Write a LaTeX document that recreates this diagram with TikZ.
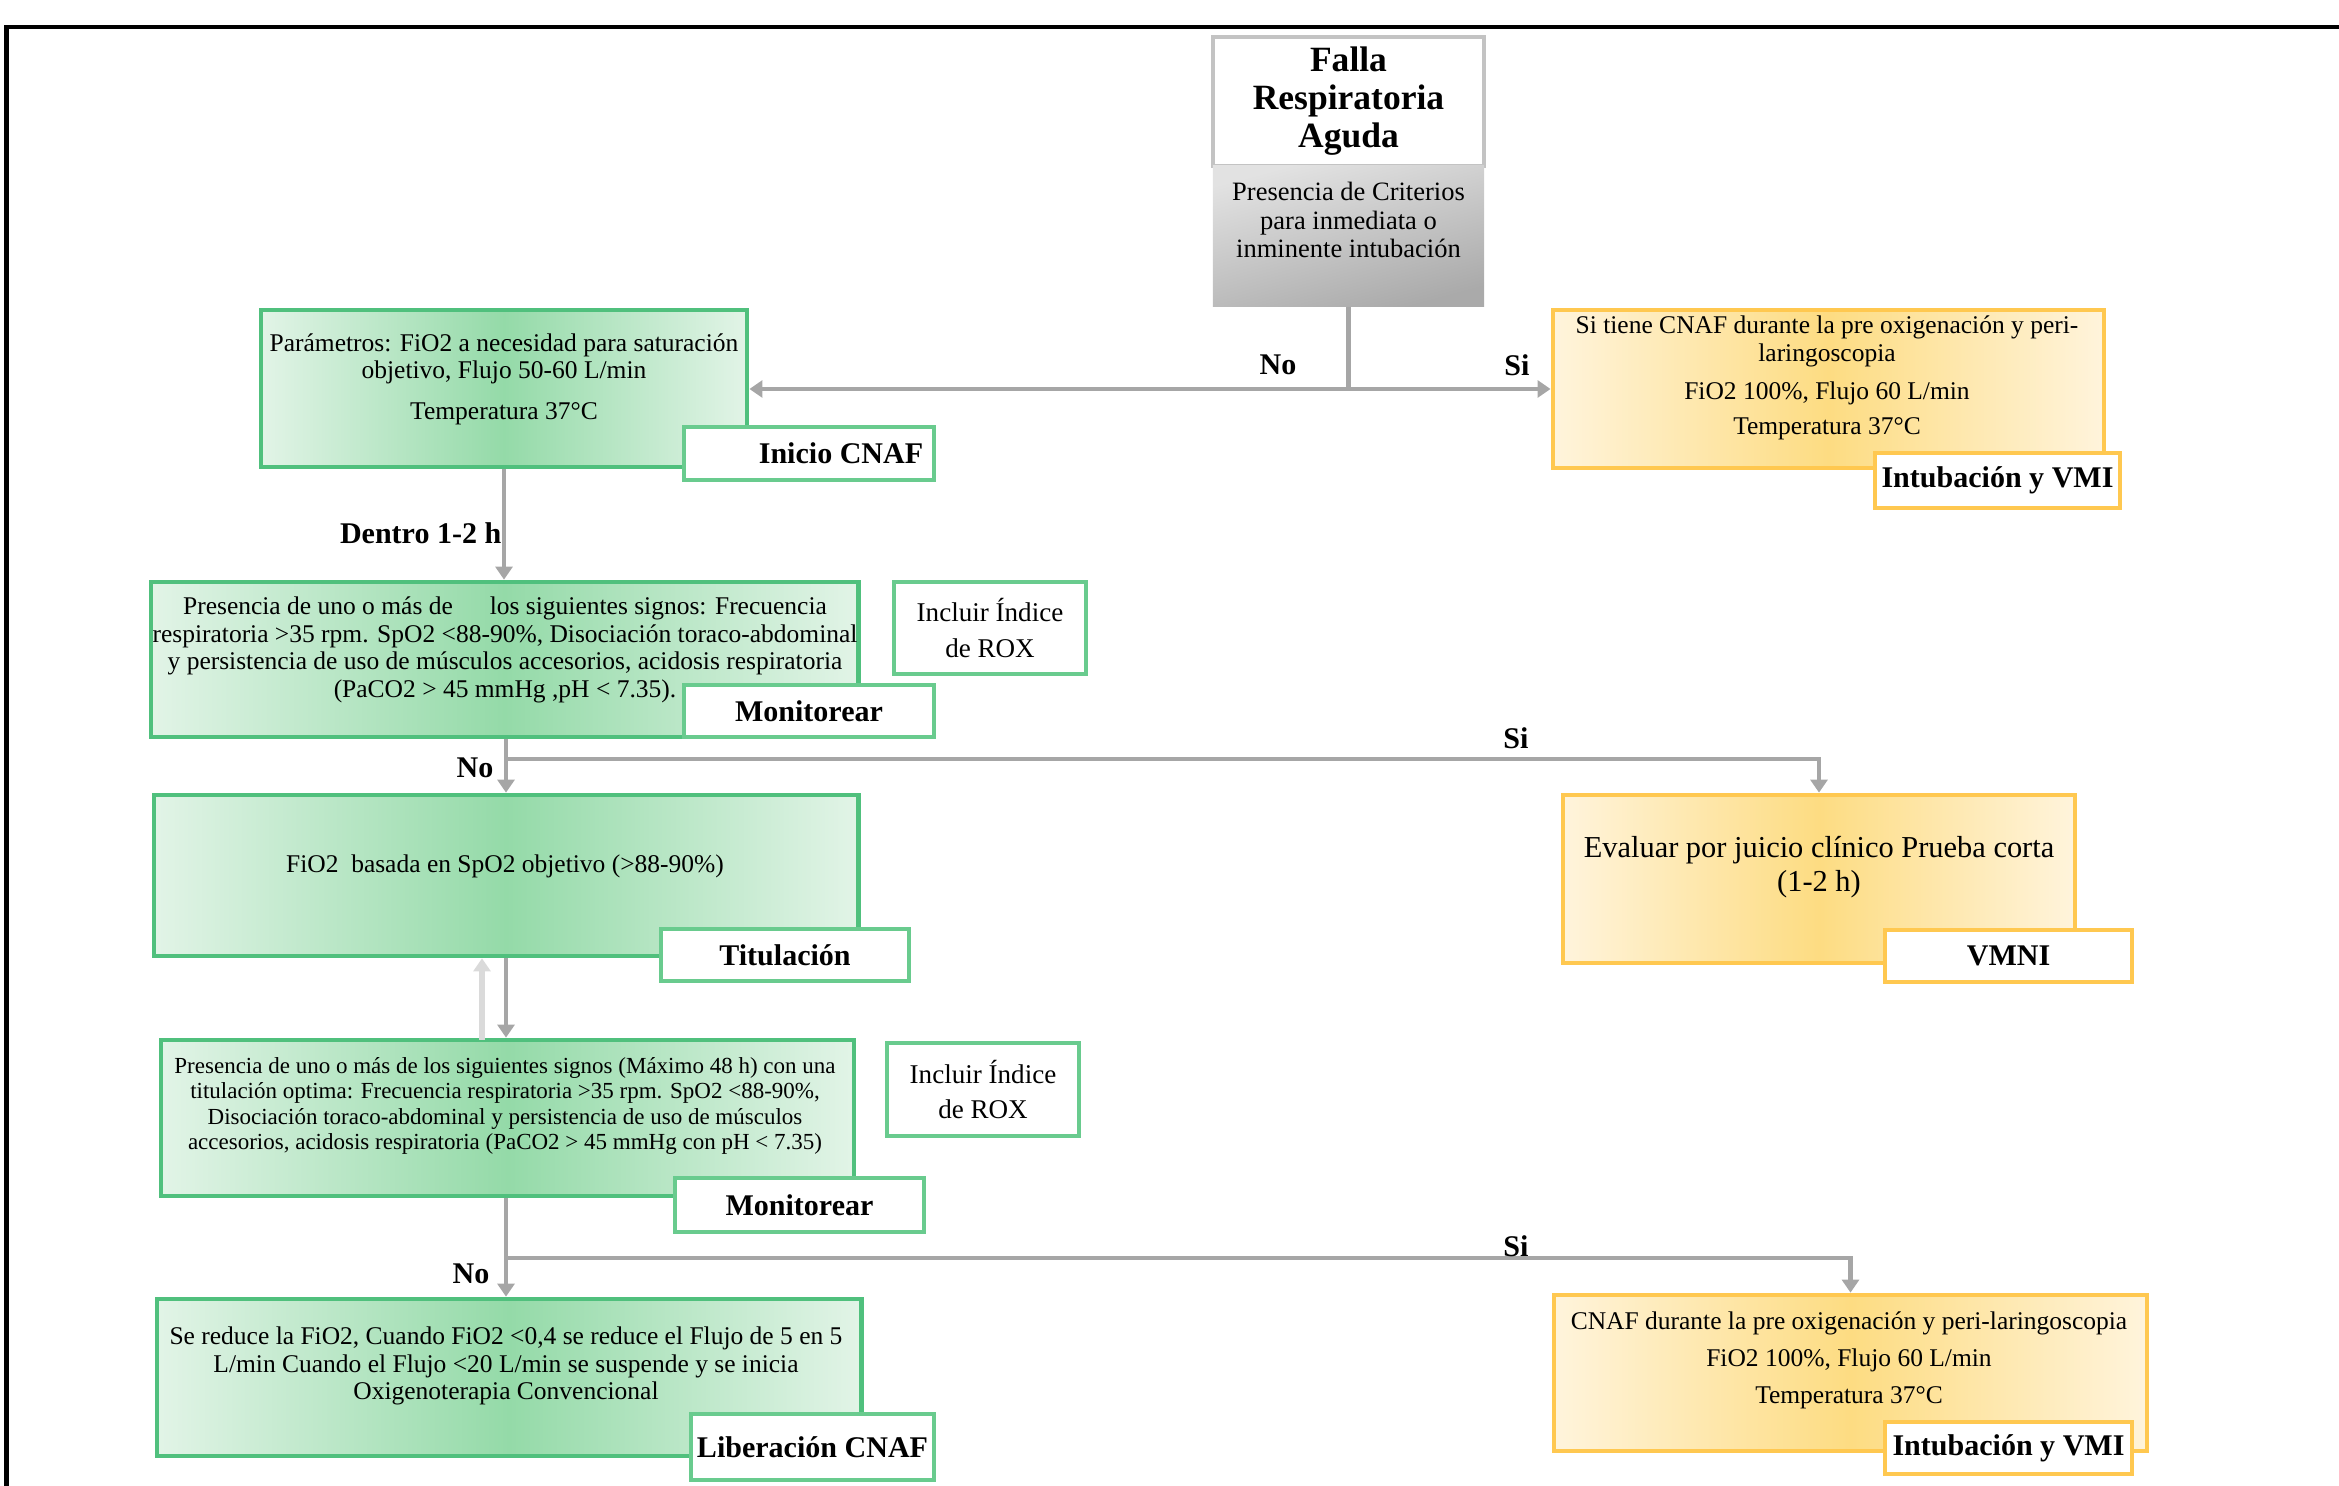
\documentclass[tikz,border=0pt]{standalone}
\usepackage{fontspec}
\setmainfont{Liberation Serif}
\usetikzlibrary{arrows.meta}
\definecolor{gborder}{RGB}{80,192,125}
\definecolor{glabel}{RGB}{105,203,142}
\definecolor{gedge}{RGB}{226,244,231}
\definecolor{gmid}{RGB}{148,218,168}
\definecolor{oborder}{RGB}{255,200,80}
\definecolor{oedge}{RGB}{255,244,220}
\definecolor{omid}{RGB}{253,220,130}
\definecolor{linegray}{RGB}{166,166,166}
\definecolor{uplinegray}{RGB}{218,218,218}
\definecolor{grayborder}{RGB}{195,195,195}
\definecolor{graytop}{RGB}{226,226,226}
\definecolor{graybot}{RGB}{170,170,170}
\newcommand\fTxt{\fontsize{7.25pt}{7.8pt}\selectfont}
\newcommand\fSmall{\fontsize{6.54pt}{7.2pt}\selectfont}
\newcommand\fLab{\fontsize{8.54pt}{9pt}\selectfont\bfseries}
\newcommand\fFalla{\fontsize{10.1pt}{10.8pt}\selectfont\bfseries}
\newcommand\fEval{\fontsize{8.65pt}{9.67pt}\selectfont}
\newcommand\fRox{\fontsize{7.7pt}{10.2pt}\selectfont}
\newcommand\fGray{\fontsize{7.54pt}{8pt}\selectfont}
\newcommand\fOrThree{\fontsize{7.25pt}{10.5pt}\selectfont}
\tikzset{
  gbox/.style={draw=gborder, line width=1.3pt, left color=gedge, right color=gedge, middle color=gmid, inner sep=0pt},
  obox/.style={draw=oborder, line width=1.3pt, left color=oedge, right color=oedge, middle color=omid, inner sep=0pt},
  glab/.style={draw=glabel, line width=1.2pt, fill=white, inner sep=0pt, font=\fLab},
  olab/.style={draw=oborder, line width=1.2pt, fill=white, inner sep=0pt, font=\fLab},
  roxbox/.style={draw=glabel, line width=1.1pt, fill=white, inner sep=0pt, align=center, font=\fRox},
  txt/.style={align=center, inner sep=0pt, text=black},
  yn/.style={inner sep=0pt, font=\fLab},
  conn/.style={draw=linegray, line width=1.2pt},
  arr/.style={-{Triangle[length=3.7pt,width=4.8pt]}},
  upconn/.style={draw=uplinegray, line width=1.5pt, -{Triangle[length=3.7pt,width=4.8pt]}},
}
\begin{document}
\begin{tikzpicture}[x=0.01cm,y=-0.01cm]
\useasboundingbox (0,0) rectangle (2339,1486);
% frame
\draw[line width=1.2pt, black] (6.5,1486) -- (6.5,27) -- (2339,27);

% top gray box
\node[draw=grayborder, line width=1pt, fill=white, minimum width=2.71cm, minimum height=1.29cm, inner sep=0pt] (ft) at (1348.5,101.5) {};
\node[top color=graytop, bottom color=graybot, shading angle=15, minimum width=2.71cm, minimum height=1.40cm, inner sep=0pt] (fb) at (1348.5,236) {};
\node[txt, font=\fFalla] (ftt) at (1348.5,101) {Falla\\Respiratoria\\Aguda};
\node[txt, font=\fGray] (fbt) at (1348.5,220) {Presencia de Criterios\\para inmediata o\\inminente intubación};

% green boxes
\node[gbox, minimum width=4.86cm, minimum height=1.57cm] (b1) at (504,388.5) {};
\node[txt, font=\fTxt] (t1) at (504,379) {Parámetros: FiO2 a necesidad para saturación\\objetivo, Flujo 50-60 L/min\\[3.7pt]Temperatura 37°C};
\node[glab, minimum width=2.50cm, minimum height=0.53cm] (l1) at (809,453.5) {\hspace*{0.64cm}Inicio CNAF};

\node[gbox, minimum width=7.07cm, minimum height=1.55cm] (b2) at (504.5,659.5) {};
\node[txt, font=\fTxt] (t2) at (505,650) {Presencia de uno o más de\hspace{1.2em} los siguientes signos: Frecuencia\\respiratoria >35 rpm. SpO2 <88-90\%, Disociación toraco-abdominal\\y persistencia de uso de músculos accesorios, acidosis respiratoria\\(PaCO2 > 45 mmHg ,pH < 7.35).};
\node[glab, minimum width=2.50cm, minimum height=0.52cm] (l2) at (809,711) {Monitorear};
\node[roxbox, minimum width=1.92cm, minimum height=0.92cm] (r1) at (990,628) {Incluir Índice\\de ROX};

\node[gbox, minimum width=7.04cm, minimum height=1.61cm] (b3) at (506,875.5) {};
\node[txt, font=\fTxt] (t3) at (505,866) {FiO2\enspace basada en SpO2 objetivo (>88-90\%)};
\node[glab, minimum width=2.48cm, minimum height=0.52cm] (l3) at (785,955) {Titulación};

\node[gbox, minimum width=6.93cm, minimum height=1.56cm] (b4) at (507.5,1118) {};
\node[txt, font=\fSmall] (t4) at (505,1106) {Presencia de uno o más de los siguientes signos (Máximo 48 h) con una\\titulación optima: Frecuencia respiratoria >35 rpm. SpO2 <88-90\%,\\Disociación toraco-abdominal y persistencia de uso de músculos\\accesorios, acidosis respiratoria (PaCO2 > 45 mmHg con pH < 7.35)};
\node[glab, minimum width=2.49cm, minimum height=0.54cm] (l4) at (799.5,1205) {Monitorear};
\node[roxbox, minimum width=1.92cm, minimum height=0.93cm] (r2) at (983,1089.5) {Incluir Índice\\de ROX};

\node[gbox, minimum width=7.04cm, minimum height=1.57cm] (b5) at (509,1377.5) {};
\node[txt, font=\fTxt] (t5) at (506,1366) {Se reduce la FiO2, Cuando FiO2 <0,4 se reduce el Flujo de 5 en 5\\L/min Cuando el Flujo <20 L/min se suspende y se inicia\\Oxigenoterapia Convencional};
\node[glab, minimum width=2.43cm, minimum height=0.66cm] (l5) at (812.5,1447) {Liberación CNAF};

% orange boxes
\node[obox, minimum width=5.51cm, minimum height=1.58cm] (o1) at (1828.5,389) {};
\node[txt, font=\fTxt] (ot1) at (1827,378) {Si tiene CNAF durante la pre oxigenación y peri-\\laringoscopia\\[3pt]FiO2 100\%, Flujo 60 L/min\\[2.2pt]Temperatura 37°C};
\node[olab, minimum width=2.45cm, minimum height=0.55cm] (ol1) at (1997.5,480.5) {Intubación y VMI};

\node[obox, minimum width=5.12cm, minimum height=1.68cm] (o2) at (1819,879) {};
\node[txt, font=\fEval] (ot2) at (1819,867) {Evaluar por juicio clínico Prueba corta\\(1-2 h)};
\node[olab, minimum width=2.47cm, minimum height=0.52cm] (ol2) at (2008.5,956) {VMNI};

\node[obox, minimum width=5.93cm, minimum height=1.56cm] (o3) at (1850.5,1373) {};
\node[txt, font=\fOrThree] (ot3) at (1849,1360) {CNAF durante la pre oxigenación y peri-laringoscopia\\FiO2 100\%, Flujo 60 L/min\\Temperatura 37°C};
\node[olab, minimum width=2.47cm, minimum height=0.52cm] (ol3) at (2008.5,1448) {Intubación y VMI};

% connectors
\coordinate (j1) at (1348.5,389);
\draw[conn] (fb.south) -- (j1);
\draw[conn,arr] (j1) -- (j1 -| b1.east);
\draw[conn,arr] (j1) -- (j1 -| o1.west);
\node[yn] (no1) at (1278,365) {No};
\node[yn] (si1) at (1517,365) {Si};

\draw[conn,arr] (b1.south) -- (b1.south |- b2.north);
\node[yn, anchor=east] (dentro) at (502,533) {Dentro 1-2 h};

\coordinate (j2) at (506,759);
\draw[conn] (j2 |- b2.south) -- (j2);
\draw[conn,arr] (j2) -- (j2 |- b3.north);
\draw[conn,arr] (j2) -| (o2.north);
\node[yn] (no2) at (475,768) {No};
\node[yn] (si2) at (1516,738) {Si};

\coordinate (u1) at (482,1040);
\draw[upconn] (u1) -- (u1 |- b3.south);
\draw[conn,arr] (b3.south) -- (b3.south |- b4.north);

\coordinate (j3) at (506,1258);
\draw[conn] (j3 |- b4.south) -- (j3);
\draw[conn,arr] (j3) -- (j3 |- b5.north);
\draw[conn,arr] (j3) -| (o3.north);
\node[yn] (no3) at (471,1274) {No};
\node[yn] (si3) at (1516,1246) {Si};
\end{tikzpicture}
\end{document}
